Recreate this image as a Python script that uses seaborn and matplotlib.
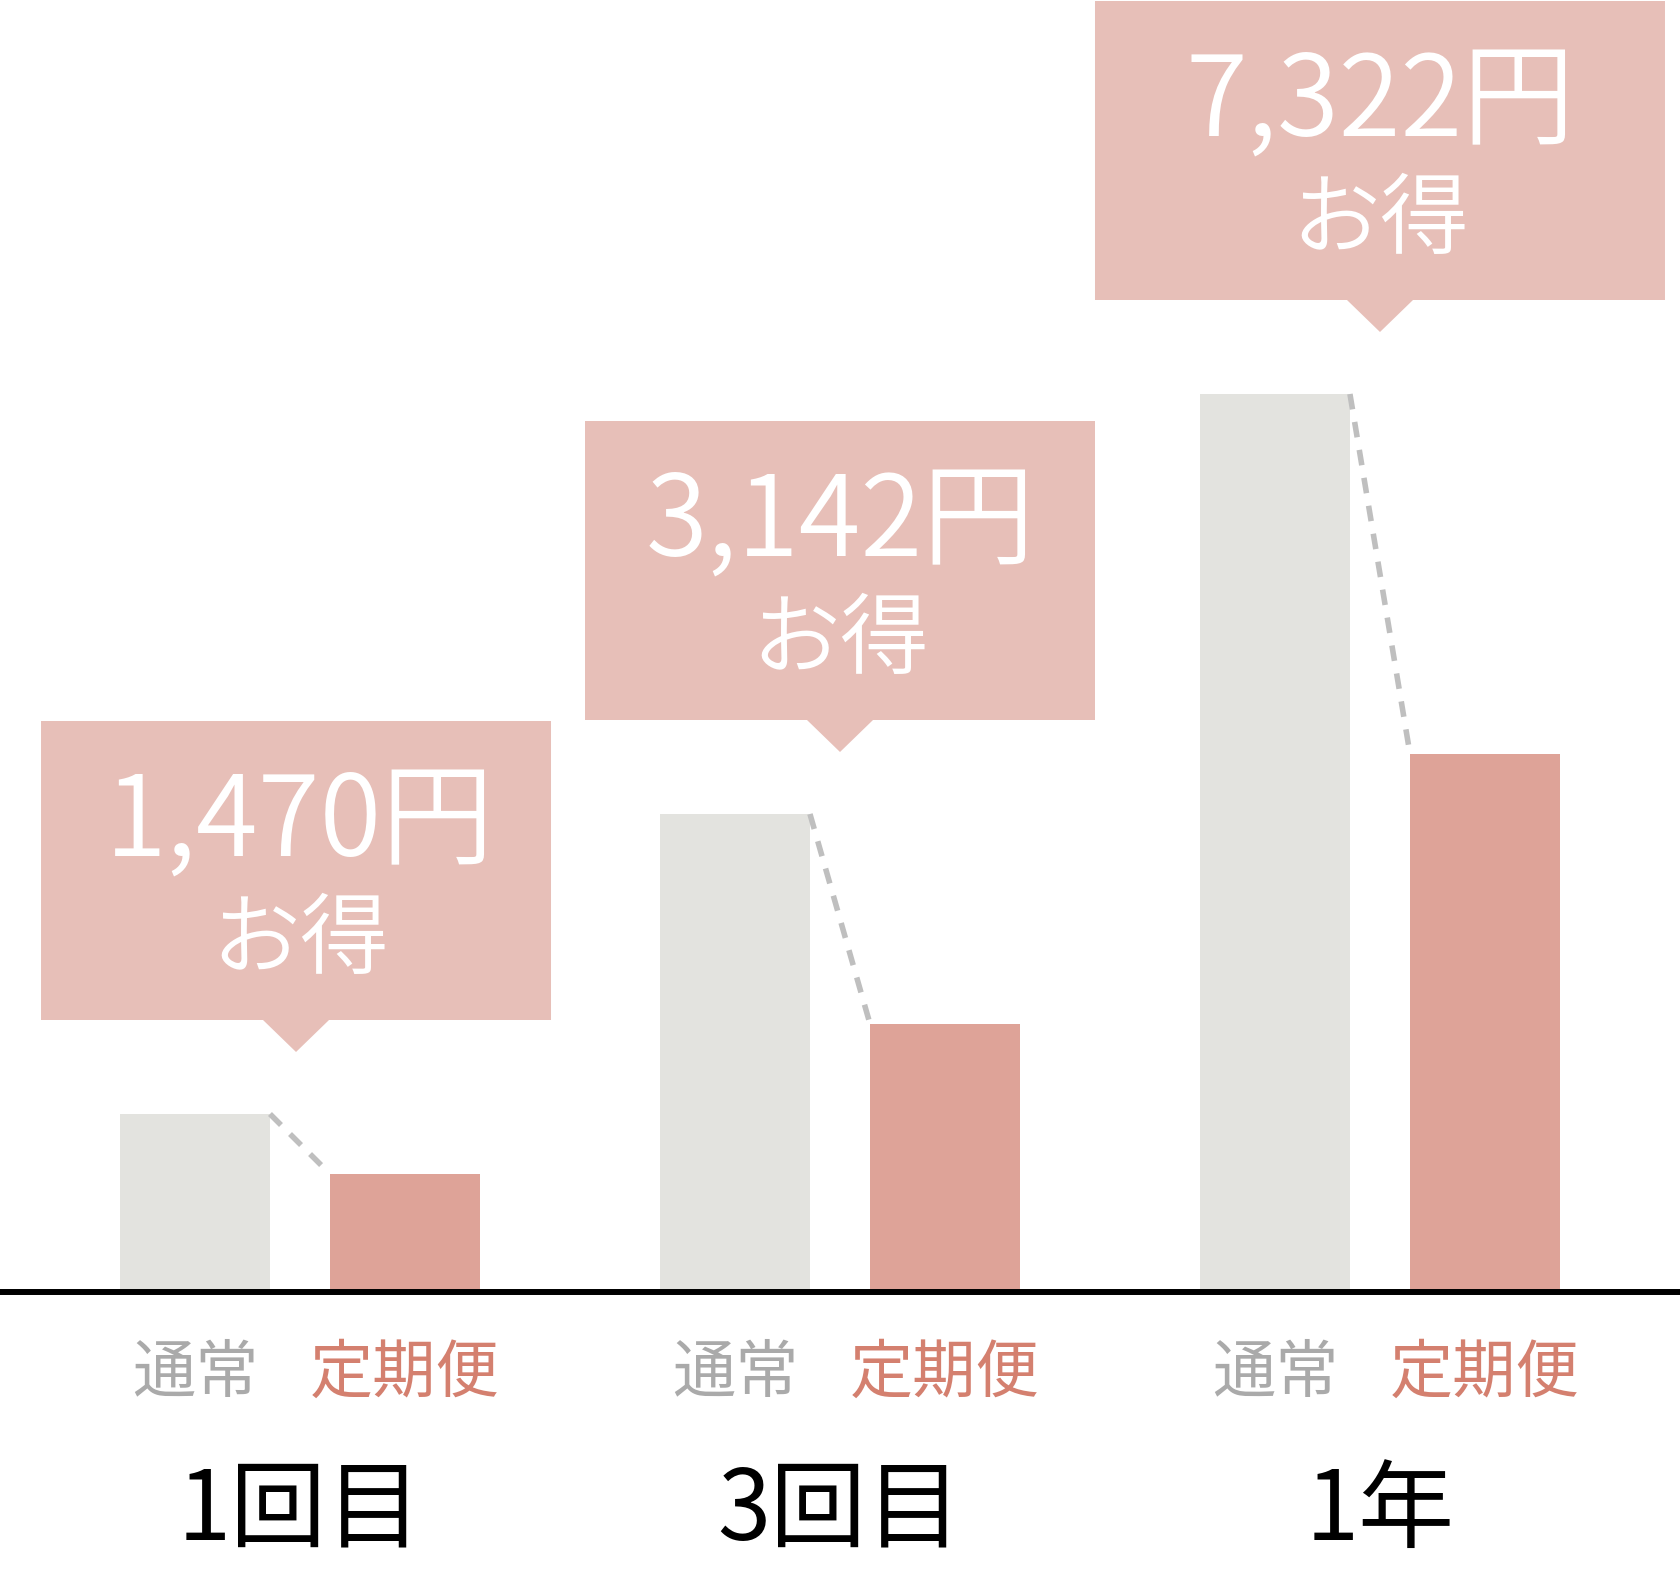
# -------------------------
# 1. Import Libraries
# -------------------------
import pandas as pd
import seaborn as sns
import matplotlib.pyplot as plt
from matplotlib.patches import Polygon

# -------------------------
# 2. Data
# -------------------------
periods = ["1回目", "3回目", "1年"]
plans = ["通常", "定期便"]
normal_values = [178, 478, 898]
teiki_values = [118, 268, 538]
savings = [1470, 3142, 7322]

df = pd.DataFrame({
    "period": periods * 2,
    "plan": [plans[0]] * len(periods) + [plans[1]] * len(periods),
    "value": normal_values + teiki_values,
})

# -------------------------
# 3. Style
# -------------------------
sns.set_style("white")
plt.rcParams["font.family"] = ["Noto Sans CJK JP", "DejaVu Sans"]

gray_bar = "#e3e3df"
pink_bar = "#dea398"
box_color = "#e7bfb8"
dash_color = "#bfbfbf"
plan_text_colors = ["#aaaaaa", "#d4806f"]

px_per_unit = 540          # horizontal pixels per category
box_widths = [510, 510, 570]
box_shift = [-4, 0, 0]
box_height = 299
box_gap = 94               # box bottom above the 通常 bar
arrow = 32

# -------------------------
# 4. Plot
# -------------------------
fig = plt.figure(figsize=(16.8, 15.72), dpi=100)
ax = fig.add_axes([0, 0, 1, 1])

sns.barplot(
    data=df,
    x="period",
    y="value",
    hue="plan",
    order=periods,
    hue_order=plans,
    palette=[gray_bar, pink_bar],
    width=0.778,
    gap=0.286,
    saturation=1,
    errorbar=None,
    legend=False,
    linewidth=0,
    ax=ax,
)

ax.set_xlim(-0.5556, 2.5556)
ax.set_ylim(-280, 1292)
ax.axis("off")

ax.axhline(0, color="black", lw=4.3, zorder=4)

bars = sorted(ax.patches, key=lambda p: p.get_x())

for i, period in enumerate(periods):
    g = bars[2 * i]
    p = bars[2 * i + 1]

    # dashed connector
    ax.plot(
        [g.get_x() + g.get_width(), p.get_x()],
        [g.get_height(), p.get_height()],
        color=dash_color, lw=4, ls=(0, (2.8, 2.3)), dash_capstyle="butt", zorder=3,
    )

    # callout box
    cx = i + box_shift[i] / px_per_unit
    w = box_widths[i] / px_per_unit
    hw = (arrow + 1) / px_per_unit
    bottom = g.get_height() + box_gap
    top = bottom + box_height
    pts = [
        (cx - w / 2, bottom), (cx - hw, bottom), (cx, bottom - arrow),
        (cx + hw, bottom), (cx + w / 2, bottom), (cx + w / 2, top), (cx - w / 2, top),
    ]
    ax.add_patch(Polygon(pts, closed=True, facecolor=box_color, edgecolor="none", zorder=2))

    ax.text(i, bottom + 195, f"{savings[i]:,}円", color="white", fontsize=81,
            fontweight=350, ha="center", va="center", zorder=5)
    ax.text(i, bottom + 78, "お得", color="white", fontsize=64,
            fontweight=350, ha="center", va="center", zorder=5)

    # bar labels
    for bar, plan, col in zip([g, p], plans, plan_text_colors):
        ax.text(bar.get_x() + bar.get_width() / 2, -82, plan, color=col,
                fontsize=45.5, ha="center", va="center")

    # group label
    ax.text(i, -220, period, color="black", fontsize=69, ha="center", va="center")

fig.savefig("out.png", dpi=100)
